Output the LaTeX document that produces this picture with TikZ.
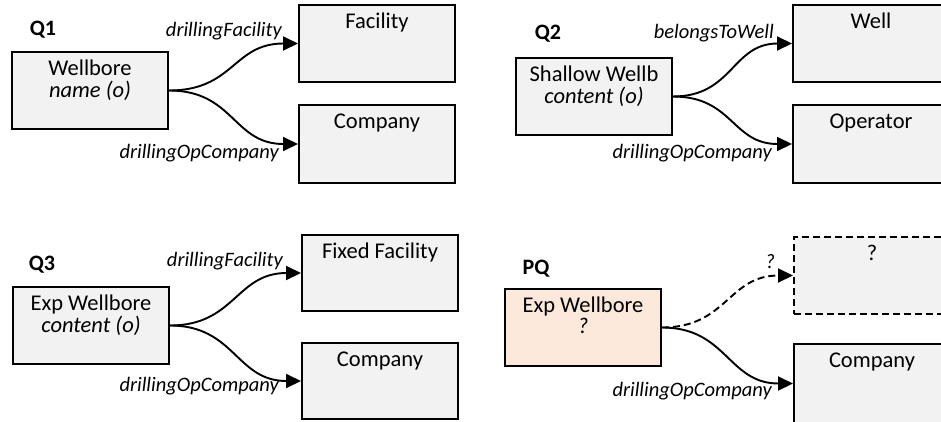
\documentclass[tikz,border=0pt]{standalone}
\usepackage{fontspec}
\setmainfont{Carlito}
\usetikzlibrary{arrows.meta,calc}
\definecolor{boxgray}{HTML}{F2F2F2}
\definecolor{peach}{HTML}{FCE9DB}

\begin{document}
\begin{tikzpicture}[x=1pt,y=-1pt,
  ent/.style={draw=black, line width=2pt, fill=boxgray, minimum width=156pt,
              minimum height=77pt, inner sep=0pt, anchor=north west},
  query/.style={ent, fill=peach},
  unknown/.style={ent, dash pattern=on 7pt off 4pt},
  title/.style={anchor=base, inner sep=0pt, yshift=-24pt,
                font=\fontsize{22.5}{20}\selectfont},
  lbl/.style={inner sep=0pt, font=\fontsize{20.5}{20}\selectfont\itshape},
  qlbl/.style={inner sep=0pt, font=\fontsize{22}{22}\selectfont\bfseries},
  rel/.style={line width=1.9pt, -{Triangle[length=15pt,width=14pt]}},
  guess/.style={rel, dash pattern=on 7pt off 4pt},
]
\useasboundingbox (0,0) rectangle (941,421);
\clip (0,0) rectangle (941,421);

% ---------- Q1 ----------
\node[qlbl] (q1) at (43,30) {Q1};
\node[ent] (q1src) at (11,51) {};
\node[ent] (q1fac) at (298,4) {};
\node[ent, minimum height=78pt] (q1comp) at (298,104) {};
\node[title] (q1srct) at (q1src.north) {\begin{tabular}[t]{@{}c@{}}Wellbore\\\itshape name (o)\end{tabular}};
\node[title] (q1fact) at (q1fac.north) {Facility};
\node[title] (q1compt) at (q1comp.north) {Company};
\draw[rel] (q1src.east) .. controls +(65,0) and +(-65,0) .. (q1fac.west);
\draw[rel] (q1src.east) .. controls +(65,0) and +(-65,0) .. (q1comp.west);
\node[lbl, anchor=base east] (q1l1) at ($(q1fac.west)+(-16,-7)$) {drillingFacility};
\node[lbl, anchor=base east] (q1l2) at ($(q1comp.west)+(-19,14)$) {drillingOpCompany};

% ---------- Q2 ----------
\node[qlbl] (q2) at (548,34) {Q2};
\node[ent] (q2src) at (515,57) {};
\node[ent] (q2well) at (792,4) {};
\node[ent, minimum height=78pt] (q2oper) at (792,104) {};
\node[title] (q2srct) at (q2src.north) {\begin{tabular}[t]{@{}c@{}}Shallow Wellb\\\itshape content (o)\end{tabular}};
\node[title] (q2wellt) at (q2well.north) {Well};
\node[title] (q2opert) at (q2oper.north) {Operator};
\draw[rel] (q2src.east) .. controls +(60,0) and +(-60,0) .. (q2well.west);
\draw[rel] (q2src.east) .. controls +(60,0) and +(-60,0) .. (q2oper.west);
\node[lbl, anchor=base east] (q2l1) at ($(q2well.west)+(-18,-5)$) {belongsToWell};
\node[lbl, anchor=base east] (q2l2) at ($(q2oper.west)+(-20,14)$) {drillingOpCompany};

% ---------- Q3 ----------
\node[qlbl] (q3) at (42,265) {Q3};
\node[ent] (q3src) at (12,286) {};
\node[ent, minimum height=76pt] (q3ffac) at (301,234) {};
\node[ent, minimum height=76pt] (q3comp) at (301,342) {};
\node[title] (q3srct) at (q3src.north) {\begin{tabular}[t]{@{}c@{}}Exp Wellbore\\\itshape content (o)\end{tabular}};
\node[title] (q3ffact) at (q3ffac.north) {Fixed Facility};
\node[title] (q3compt) at (q3comp.north) {Company};
\draw[rel] (q3src.east) .. controls +(65,0) and +(-65,0) .. (q3ffac.west);
\draw[rel] (q3src.east) .. controls +(65,0) and +(-65,0) .. (q3comp.west);
\node[lbl, anchor=base east] (q3l1) at ($(q3ffac.west)+(-18,-7)$) {drillingFacility};
\node[lbl, anchor=base east] (q3l2) at ($(q3comp.west)+(-22,10)$) {drillingOpCompany};

% ---------- PQ ----------
\node[qlbl] (pq) at (536,269) {PQ};
\node[query] (pqsrc) at (504,288) {};
\node[unknown] (pqunk) at (793,236) {};
\node[ent, minimum height=79pt] (pqcomp) at (793,343) {};
\node[title] (pqsrct) at (pqsrc.north) {\begin{tabular}[t]{@{}c@{}}Exp Wellbore\\\itshape ?\end{tabular}};
\node[title] (pqunkt) at (pqunk.north) {?};
\node[title] (pqcompt) at (pqcomp.north) {Company};
\draw[guess] (pqsrc.east) .. controls +(65,0) and +(-65,0) .. (pqunk.west);
\draw[rel] (pqsrc.east) .. controls +(65,0) and +(-65,0) .. (pqcomp.west);
\node[lbl, anchor=base east] (pql1) at ($(pqunk.west)+(-18,-7)$) {?};
\node[lbl, anchor=base east] (pql2) at ($(pqcomp.west)+(-21,13)$) {drillingOpCompany};
\end{tikzpicture}
\end{document}
